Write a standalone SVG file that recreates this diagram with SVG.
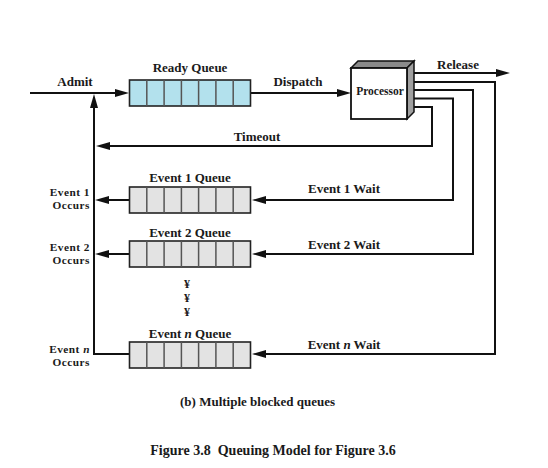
<svg xmlns="http://www.w3.org/2000/svg" width="548" height="468" viewBox="0 0 548 468">
<style>
text{font-family:"Liberation Serif","Times New Roman",serif;font-weight:bold;fill:#1a1a1a;font-size:13px}
.c{text-anchor:middle}
.e{text-anchor:end;font-size:11.3px;letter-spacing:0.5px}
.ln{fill:none;stroke:#111;stroke-width:2}
.qb{fill:#b3e1ed;stroke:#222;stroke-width:1.6}
.qg{fill:#e3e3e3;stroke:#222;stroke-width:1.6}
.dv{stroke:#555;stroke-width:1.5}
.dot{font-size:12px}
</style>
<defs>
<marker id="ah" markerUnits="userSpaceOnUse" markerWidth="16" markerHeight="10" refX="10" refY="4" orient="auto">
<path d="M0,0 L14,4 L0,8 Z" fill="#111"/>
</marker>
<g id="cells">
<line class="dv" x1="17.3" y1="0" x2="17.3" y2="26"/>
<line class="dv" x1="34.6" y1="0" x2="34.6" y2="26"/>
<line class="dv" x1="51.9" y1="0" x2="51.9" y2="26"/>
<line class="dv" x1="69.1" y1="0" x2="69.1" y2="26"/>
<line class="dv" x1="86.4" y1="0" x2="86.4" y2="26"/>
<line class="dv" x1="103.7" y1="0" x2="103.7" y2="26"/>
</g>
</defs>
<rect width="548" height="468" fill="#fff"/>

<g id="connectors">
<path class="ln" d="M30,93 H125" marker-end="url(#ah)"/>
<path class="ln" d="M251,93 H347" marker-end="url(#ah)"/>
<path class="ln" d="M409,73 H506" marker-end="url(#ah)"/>
<path class="ln" d="M409,107 H432 V146 H100" marker-end="url(#ah)"/>
<path class="ln" d="M409,98.5 H453 V200 H256" marker-end="url(#ah)"/>
<path class="ln" d="M409,90 H473 V254 H256" marker-end="url(#ah)"/>
<path class="ln" d="M409,82 H495 V354 H256" marker-end="url(#ah)"/>
<path class="ln" d="M129,200 H99" marker-end="url(#ah)"/>
<path class="ln" d="M129,254 H99" marker-end="url(#ah)"/>
<path class="ln" d="M129,354 H94 V98" marker-end="url(#ah)"/>
</g>

<g id="ready-queue">
<rect class="qb" x="129.5" y="80" width="121" height="26"/>
<use href="#cells" x="129.5" y="80"/>
<text class="c" x="190" y="72">Ready Queue</text>
</g>

<g id="processor">
<polygon points="351,68 358,61 414,61 407,68" fill="#8a8a8a" stroke="#111" stroke-width="1.5"/>
<polygon points="407,68 414,61 414,112 407,119" fill="#a0a0a0" stroke="#111" stroke-width="1.5"/>
<rect x="351" y="68" width="56" height="51" fill="#fff" stroke="#111" stroke-width="1.8"/>
<text class="c" x="380" y="95" style="font-size:11.5px">Processor</text>
</g>

<g id="event1-queue">
<rect class="qg" x="129.5" y="187" width="121" height="26"/>
<use href="#cells" x="129.5" y="187"/>
<text class="c" x="190" y="182">Event 1 Queue</text>
</g>

<g id="event2-queue">
<rect class="qg" x="129.5" y="241" width="121" height="26"/>
<use href="#cells" x="129.5" y="241"/>
<text class="c" x="190" y="237">Event 2 Queue</text>
</g>

<g id="eventn-queue">
<rect class="qg" x="129.5" y="342" width="121" height="26"/>
<use href="#cells" x="129.5" y="342"/>
<text class="c" x="190" y="338">Event <tspan font-style="italic">n</tspan> Queue</text>
</g>

<g id="labels">
<text class="c" x="75" y="86">Admit</text>
<text class="c" x="298" y="86">Dispatch</text>
<text class="c" x="458" y="69">Release</text>
<text class="c" x="257" y="141">Timeout</text>
<text class="c" x="344" y="193">Event 1 Wait</text>
<text class="c" x="344" y="249">Event 2 Wait</text>
<text class="c" x="344" y="349">Event <tspan font-style="italic">n</tspan> Wait</text>
<text class="e" x="90" y="196">Event 1</text>
<text class="e" x="90" y="209">Occurs</text>
<text class="e" x="90" y="251">Event 2</text>
<text class="e" x="90" y="264">Occurs</text>
<text class="e" x="90" y="353">Event <tspan font-style="italic">n</tspan></text>
<text class="e" x="90" y="366">Occurs</text>
<text class="c dot" x="187" y="288">¥</text>
<text class="c dot" x="187" y="302">¥</text>
<text class="c dot" x="187" y="316">¥</text>
<text class="c" x="257.5" y="406">(b) Multiple blocked queues</text>
<text class="c" x="273" y="455" style="font-size:14px" xml:space="preserve">Figure 3.8  Queuing Model for Figure 3.6</text>
</g>
</svg>
